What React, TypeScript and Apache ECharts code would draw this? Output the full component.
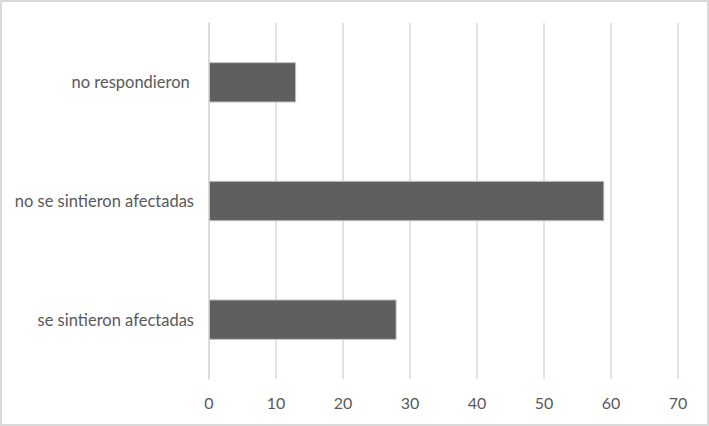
import React, { useEffect, useRef } from "react";
import * as echarts from "echarts";

const categories = ["se sintieron afectadas", "no se sintieron afectadas", "no respondieron "];
const values = [28, 59, 13];
const xTicks = { min: 0, max: 70, interval: 10 };

export default function App() {
  const ref = useRef<HTMLDivElement>(null);
  useEffect(() => {
    document.body.style.margin = "0";
    const chart = echarts.init(ref.current!, null, { renderer: "svg" });
    chart.setOption({
      animation: false,
      backgroundColor: "transparent",
      textStyle: { fontFamily: "Lato" },
      grid: { left: 209, right: 31, top: 23, bottom: 47 },
      xAxis: {
        type: "value",
        min: xTicks.min,
        max: xTicks.max,
        interval: xTicks.interval,
        axisLine: { show: false },
        axisTick: { show: false },
        splitLine: { show: true, lineStyle: { color: "#d9d9d9", width: 1.5 } },
        axisLabel: { color: "#595959", fontSize: 16, margin: 15, fontFamily: "Lato" },
      },
      yAxis: {
        type: "category",
        data: categories,
        axisLine: { show: true, lineStyle: { color: "#d9d9d9", width: 1.5 } },
        axisTick: { show: false },
        axisLabel: { color: "#595959", fontSize: 16.5, margin: 15, fontFamily: "Lato" },
      },
      series: [
        {
          type: "bar",
          data: values,
          barCategoryGap: "66%",
          itemStyle: { color: "#5f5f5f", borderColor: "#bfbfbf", borderWidth: 1 },
        },
      ],
    });
    return () => chart.dispose();
  }, []);
  return (
    <div
      style={{
        position: "fixed",
        left: 0,
        top: 0,
        width: 709,
        height: 426,
        background: "#fff",
      }}
    >
      <div ref={ref} style={{ position: "absolute", left: 0, top: 0, width: 709, height: 426 }} />
      <div
        style={{
          position: "absolute",
          left: 0,
          top: 0,
          width: 709,
          height: 426,
          boxSizing: "border-box",
          border: "2px solid #d9d9d9",
          pointerEvents: "none",
        }}
      />
    </div>
  );
}
